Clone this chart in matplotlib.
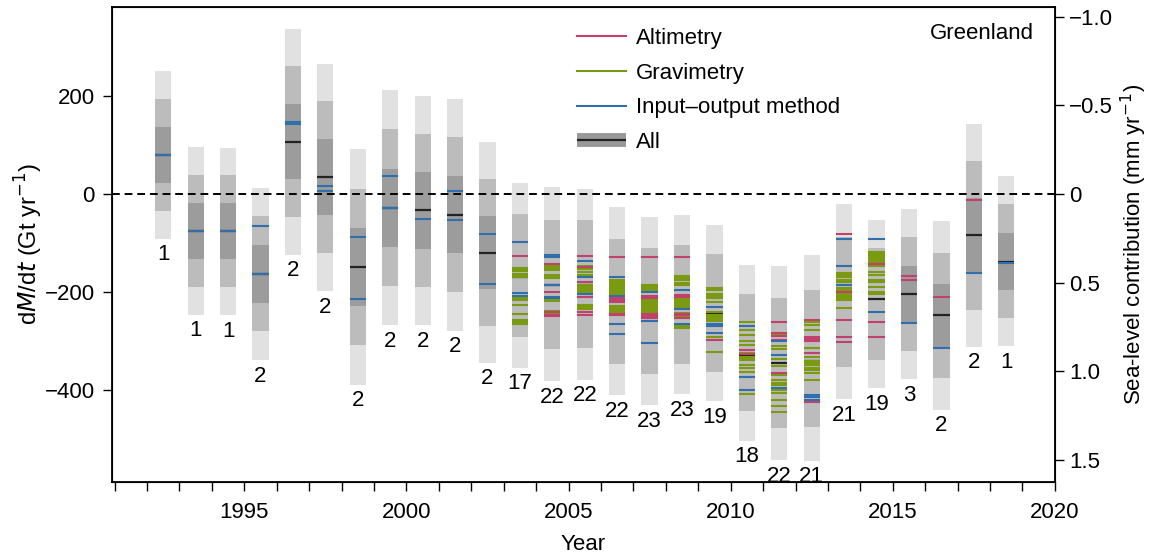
import matplotlib
matplotlib.use("Agg")
import matplotlib.pyplot as plt
from matplotlib.lines import Line2D
from matplotlib.legend_handler import HandlerTuple
from matplotlib.ticker import MultipleLocator

plt.rcParams['font.family'] = ['Liberation Sans', 'DejaVu Sans']

# yearly values (Gt/yr)
years = list(range(1992, 2019))
centres = [80, -75, -76, -163, 107, 34, -149, -28, -34, -42, -119, -166, -184, -184,
           -219, -239, -226, -243, -324, -345, -335, -220, -225, -204, -248, -84, -137]
sigmas = [57, 57, 57, 58.6, 77, 77.5, 80, 80, 78, 79, 75, 63, 66, 65,
          64, 64, 61, 60, 60, 66, 70, 66.5, 57, 58, 64, 76, 58]
means = [80, -75, -76, -164, 107, 35, -149, -29, -33, -43, -120, -170, -185, -186,
         -215, -238, -226, -242, -330, -346, -340, -215, -215, -204, -247, -84, -138]
counts = [1, 1, 1, 2, 2, 2, 2, 2, 2, 2, 2, 17, 22, 22, 22, 23, 23, 19, 18, 22, 21, 21,
          19, 3, 2, 2, 1]

altimetry = [[], [], [], [], [], [], [], [], [], [], [],
             [-126],
             [-143, -201, -240, -246, -250],
             [-126, -148, -180, -211, -240, -248],
             [-128, -212, -216, -220, -244, -247],
             [-128, -208, -212, -245, -250, -254],
             [-128, -206, -211, -245, -247, -254],
             [-298],
             [-318, -326],
             [-262, -284, -290, -298, -366],
             [-257, -292, -297, -301, -324, -424],
             [-82, -200, -258, -292, -303],
             [-143, -262, -292],
             [-168, -176],
             [-211],
             [-12],
             []]

gravimetry = [[], [], [], [], [], [], [], [], [], [], [],
              [-150, -154, -158, -163, -166, -170, -212, -216, -226, -245, -258, -262, -265],
              [-145, -148, -152, -156, -165, -169, -172, -214, -218, -238, -243, -248],
              [-146, -150, -153, -160, -165, -186, -190, -194, -198, -203, -226, -230, -234],
              [-176, -180, -184, -188, -192, -196, -200, -204, -228, -232, -236, -240],
              [-186, -190, -194, -198, -216, -220, -224, -228, -232, -236, -240, -244, -248, -252],
              [-167, -171, -176, -182, -186, -214, -219, -223, -227, -230, -242, -249, -270, -274],
              [-192, -196, -204, -208, -212, -220, -240, -247, -250, -253, -256, -260, -291, -322],
              [-262, -278, -288, -300, -308, -325, -332, -336, -339, -349, -355, -363, -408],
              [-288, -310, -316, -336, -352, -370, -380, -385, -390, -400, -407, -420, -432, -446],
              [-262, -267, -278, -315, -332, -340, -345, -350, -355, -360, -366, -380],
              [-162, -166, -170, -175, -180, -192, -196, -200, -204, -208, -212, -216, -233],
              [-118, -122, -126, -130, -134, -138, -147, -159, -165, -175, -180, -190, -200, -205],
              [], [], [], []]

input_output = [[80], [-75], [-76], [-65, -164], [143, 147], [17, 7], [-88, -214], [36, -29],
                [-50], [6, -54], [-82, -184], [-97, -203, -208],
                [-125, -128, -186, -210, -213], [-136, -170, -205], [-170, -208, -266, -286],
                [-200, -260, -305], [-195, -235, -265], [-230, -266, -269, -284],
                [-269, -374, -400], [-300, -329, -396], [-410, -415, -420], [-92, -147, -186],
                [-92, -240], [-264], [-315], [-162], [-140]]

gt_per_mm = 362.0
c_alt = '#c2406c'
c_grav = '#7a9a12'
c_iom = '#2f6fae'
shades = ['#e1e1e1', '#bcbcbc', '#9c9c9c']
fs = 16

fig = plt.figure(figsize=(11.49, 5.58), dpi=100)
ax = fig.add_axes([0.0975, 0.1362, 0.8206, 0.8513])

w = 0.5
for i, yr in enumerate(years):
    x = yr + 0.5
    c, s = centres[i], sigmas[i]
    inner = shades[2] if counts[i] <= 3 else shades[1]
    for k, col in zip([3, 2, 1], [shades[0], shades[1], inner]):
        ax.bar(x, 2 * k * s, bottom=c - k * s, width=w, color=col, linewidth=0, zorder=1)
    ax.hlines(means[i], x - w / 2, x + w / 2, color='#222222', lw=1.6, zorder=3)
    for vals, col in [(gravimetry[i], c_grav), (altimetry[i], c_alt), (input_output[i], c_iom)]:
        if vals:
            ax.hlines(vals, x - w / 2, x + w / 2, color=col, lw=1.5, zorder=4)
    ax.annotate(str(counts[i]), (x, c - 3 * s), xytext=(0, -4), textcoords='offset points',
                ha='center', va='top', fontsize=fs)

ax.axhline(0, color='black', lw=1.4, ls=(0, (4, 2.5)), zorder=5)

ax.set_xlim(1990.92, 2020)
ax.set_ylim(-588, 382)
ax.xaxis.set_major_locator(MultipleLocator(5))
ax.xaxis.set_minor_locator(MultipleLocator(1))
ax.set_yticks([-400, -200, 0, 200])
ax.tick_params(axis='both', which='both', direction='out', length=6.5, width=1, labelsize=fs)
ax.tick_params(axis='x', which='major', pad=8)
ax.tick_params(axis='y', pad=6)
for sp in ax.spines.values():
    sp.set_linewidth(1.3)
ax.set_xlabel('Year', fontsize=fs, labelpad=8)
ax.set_ylabel('d$\\mathit{M}$/d$\\mathit{t}$ (Gt yr$^{-1}$)', fontsize=17, labelpad=0)

ax2 = ax.twinx()
lo, hi = ax.get_ylim()
ax2.set_ylim(-lo / gt_per_mm, -hi / gt_per_mm)
sl_ticks = [-1.0, -0.5, 0, 0.5, 1.0, 1.5]
ax2.set_yticks(sl_ticks)
ax2.set_yticklabels(['\u22121.0', '\u22120.5', '0', '0.5', '1.0', '1.5'])
ax2.tick_params(axis='y', direction='out', length=6.5, width=1, labelsize=fs)
ax2.set_ylabel('Sea-level contribution (mm yr$^{-1}$)', fontsize=16, labelpad=4)

ax.text(0.978, 0.945, 'Greenland', transform=ax.transAxes, ha='right', va='center', fontsize=fs)

handles = [Line2D([], [], color=c_alt, lw=1.5),
           Line2D([], [], color=c_grav, lw=1.5),
           Line2D([], [], color=c_iom, lw=1.5),
           (Line2D([], [], color='#999999', lw=10, solid_capstyle='butt'),
            Line2D([], [], color='#222222', lw=1.6, solid_capstyle='butt'))]
labels = ['Altimetry', 'Gravimetry', 'Input\u2013output method', 'All']
ax.legend(handles, labels, loc='upper left', bbox_to_anchor=(0.493, 0.956), frameon=False,
          fontsize=fs, handlelength=2.2, handletextpad=0.45, labelspacing=0.62,
          borderpad=0, borderaxespad=0, handler_map={tuple: HandlerTuple(ndivide=1, pad=0)})

fig.savefig('out.png', dpi=100)
